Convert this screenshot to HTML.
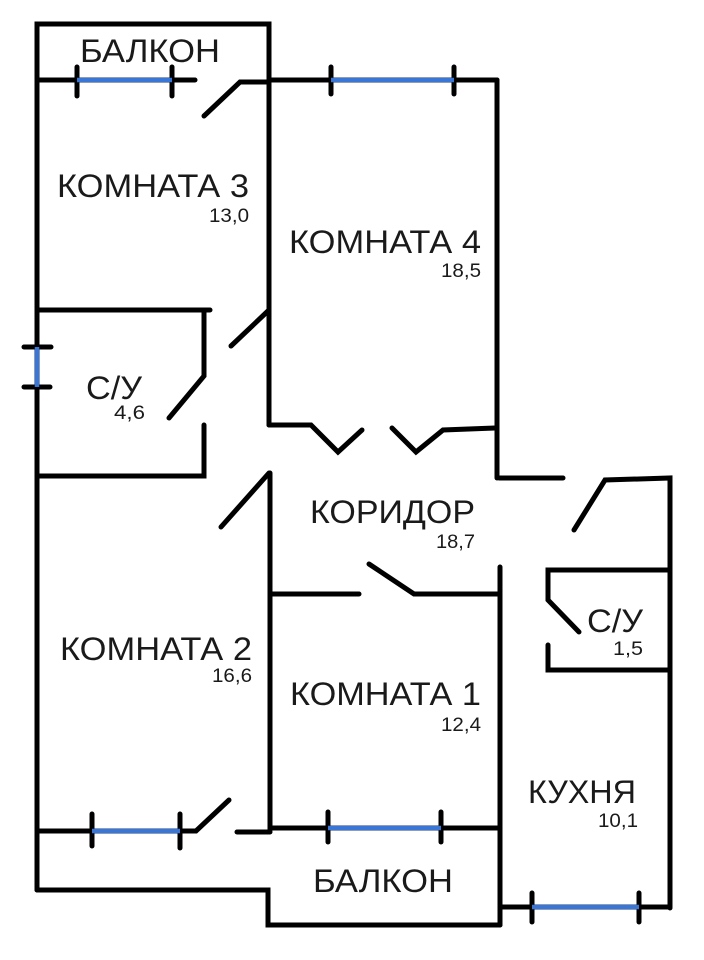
<!DOCTYPE html>
<html><head><meta charset="utf-8"><style>
html,body{margin:0;padding:0;background:#fff;width:704px;height:960px;overflow:hidden}
svg{display:block}
text{font-family:"Liberation Sans","DejaVu Sans",sans-serif;fill:#1a1a1a}
</style></head><body>
<svg width="704" height="960" viewBox="0 0 704 960">
<g stroke="#000" stroke-width="5" fill="none" stroke-linecap="round" stroke-linejoin="miter">
<polyline points="37,80 37,24 269,24 269,80"/>
<line x1="37" y1="80" x2="195" y2="80"/>
<polyline points="204,116 240,82 269,82"/>
<line x1="269" y1="80" x2="497" y2="80"/>
<line x1="77" y1="67" x2="77" y2="96"/>
<line x1="172" y1="67" x2="172" y2="96"/>
<line x1="331" y1="67" x2="331" y2="94"/>
<line x1="454" y1="67" x2="454" y2="94"/>
<line x1="37" y1="80" x2="37" y2="890"/>
<line x1="269" y1="80" x2="269" y2="425"/>
<line x1="269" y1="310" x2="231" y2="346"/>
<polyline points="269,425 311,425 338,452 362,430"/>
<polyline points="392,428 416,452 443,430 495,428"/>
<line x1="497" y1="80" x2="497" y2="478"/>
<line x1="37" y1="310" x2="210" y2="310"/>
<polyline points="204,310 204,376 169,418"/>
<polyline points="204,425 204,476 37,476"/>
<line x1="24" y1="347" x2="51" y2="347"/>
<line x1="24" y1="387" x2="50" y2="387"/>
<line x1="269" y1="473" x2="221" y2="527"/>
<line x1="270" y1="473" x2="270" y2="830"/>
<polyline points="499,478 563,478"/>
<polyline points="574,530 605,480 670,478 670,908"/>
<polyline points="670,570 548,570 548,600 579,632"/>
<polyline points="548,645 548,670 670,670"/>
<line x1="270" y1="594" x2="359" y2="594"/>
<polyline points="369,564 414,594 500,594"/>
<line x1="500" y1="567" x2="500" y2="925"/>
<line x1="37" y1="831" x2="180" y2="831"/>
<polyline points="180,831 196,831 229,800"/>
<line x1="237" y1="832" x2="270" y2="832"/>
<line x1="92" y1="814" x2="92" y2="846"/>
<line x1="180" y1="814" x2="180" y2="848"/>
<line x1="270" y1="828" x2="500" y2="828"/>
<line x1="328" y1="812" x2="328" y2="842"/>
<line x1="441" y1="812" x2="441" y2="842"/>
<polyline points="37,890 268,890 268,925 500,925"/>
<line x1="500" y1="907" x2="670" y2="907"/>
<line x1="532" y1="893" x2="532" y2="922"/>
<line x1="639" y1="893" x2="639" y2="922"/>
</g>
<g stroke="#3a76d6" stroke-width="4.5" fill="none">
<line x1="77" y1="80" x2="172" y2="80"/>
<line x1="331" y1="80" x2="454" y2="80"/>
<line x1="37" y1="347" x2="37" y2="387"/>
<line x1="92" y1="831" x2="180" y2="831"/>
<line x1="328" y1="828" x2="441" y2="828"/>
<line x1="532" y1="907" x2="639" y2="907"/>
</g>
<g font-size="32">
<text x="80" y="62" textLength="140" lengthAdjust="spacingAndGlyphs">БАЛКОН</text>
<text x="57" y="197" textLength="192" lengthAdjust="spacingAndGlyphs">КОМНАТА 3</text>
<text x="289" y="253" textLength="192" lengthAdjust="spacingAndGlyphs">КОМНАТА 4</text>
<text x="86" y="399" textLength="56" lengthAdjust="spacingAndGlyphs">С/У</text>
<text x="310" y="523" textLength="165" lengthAdjust="spacingAndGlyphs">КОРИДОР</text>
<text x="60" y="660" textLength="192" lengthAdjust="spacingAndGlyphs">КОМНАТА 2</text>
<text x="290" y="705" textLength="191" lengthAdjust="spacingAndGlyphs">КОМНАТА 1</text>
<text x="587" y="632" textLength="56" lengthAdjust="spacingAndGlyphs">С/У</text>
<text x="528" y="803" textLength="108" lengthAdjust="spacingAndGlyphs">КУХНЯ</text>
<text x="313" y="892" textLength="140" lengthAdjust="spacingAndGlyphs">БАЛКОН</text>
</g>
<g font-size="19">
<text x="209" y="222" textLength="40" lengthAdjust="spacingAndGlyphs">13,0</text>
<text x="441" y="277" textLength="40" lengthAdjust="spacingAndGlyphs">18,5</text>
<text x="114" y="419" textLength="31" lengthAdjust="spacingAndGlyphs">4,6</text>
<text x="436" y="548" textLength="39" lengthAdjust="spacingAndGlyphs">18,7</text>
<text x="212" y="682" textLength="40" lengthAdjust="spacingAndGlyphs">16,6</text>
<text x="441" y="731" textLength="40" lengthAdjust="spacingAndGlyphs">12,4</text>
<text x="613" y="655" textLength="30" lengthAdjust="spacingAndGlyphs">1,5</text>
<text x="598" y="827" textLength="40" lengthAdjust="spacingAndGlyphs">10,1</text>
</g>
</svg>
</body></html>
